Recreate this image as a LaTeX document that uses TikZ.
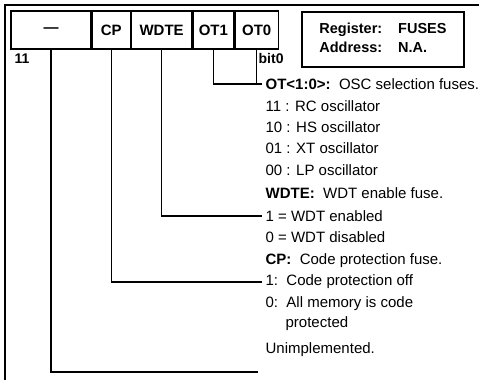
\documentclass[tikz,border=0pt]{standalone}
\usepackage{fontspec}
\setmainfont{Liberation Sans}
\usepackage{tikz}
\usetikzlibrary{positioning}

\tikzset{
  bitcell/.style={draw, minimum height=38pt, inner sep=0pt, font=\fontsize{15}{18}\selectfont\bfseries},
  desc/.style={anchor=west, inner sep=3pt, font=\fontsize{15}{18}\selectfont},
  small/.style={anchor=west, inner sep=0pt, font=\fontsize{14}{16}\selectfont\bfseries},
}

\begin{document}
\begin{tikzpicture}[x=1pt,y=-1pt,line width=1.3pt]
\useasboundingbox (0,0) rectangle (479,380);
\draw (479,5) -- (5,5) -- (5,380);
\node[bitcell,minimum width=80pt] (unimp) at (51,30) {---};
\node[bitcell,minimum width=38pt,right=0pt of unimp] (cp) {CP};
\node[bitcell,minimum width=60pt,right=0pt of cp] (wdte) {WDTE};
\node[bitcell,minimum width=41pt,right=0pt of wdte] (ot1) {OT1};
\node[bitcell,minimum width=43pt,right=0pt of ot1] (ot0) {OT0};
\node[small] (msb) at (14,59) {11};
\node[small] (lsb) at (258,58) {bit0};
\node[draw,minimum width=162pt,minimum height=55pt,inner sep=0pt,
  font=\fontsize{14.5}{19}\selectfont\bfseries] (reg) at (383,39.5)
  {\begin{tabular}{@{}l@{\hspace{16pt}}l@{}}Register: & FUSES\\ Address: & N.A.\end{tabular}};
\node[desc] (ot) at (262,84) {\bfseries OT<1:0>:\ \ \mdseries OSC selection fuses.};
\node[desc] (rc) at (262,106) {11 : RC oscillator};
\node[desc] (hs) at (262,127) {10 : HS oscillator};
\node[desc] (xt) at (262,148) {01 : XT oscillator};
\node[desc] (lp) at (262,170) {00 : LP oscillator};
\node[desc] (wdtelbl) at (262,193) {\bfseries WDTE:\ \ \mdseries WDT enable fuse.};
\node[desc] (wdten) at (262,216) {1 = WDT enabled};
\node[desc] (wdtdis) at (262,237) {0 = WDT disabled};
\node[desc] (cplbl) at (262,261) {\bfseries CP:\ \ \mdseries Code protection fuse.};
\node[desc] (cpoff) at (262,282) {1:\ \ Code protection off};
\node[desc] (cpon) at (262,304) {0:\ \ All memory is code};
\node[desc] (prot) at (282,324) {protected};
\node[desc] (unimplbl) at (262,350) {Unimplemented.};
\coordinate (unimpend) at (258,372);
\draw (ot1.south) |- (ot.west);
\draw (ot0.south) -- (ot0.south |- ot.west);
\draw (wdte.south) |- (wdten.west);
\draw (cp.south) |- (cpoff.west);
\draw (unimp.south) |- (unimpend);
\end{tikzpicture}
\end{document}
